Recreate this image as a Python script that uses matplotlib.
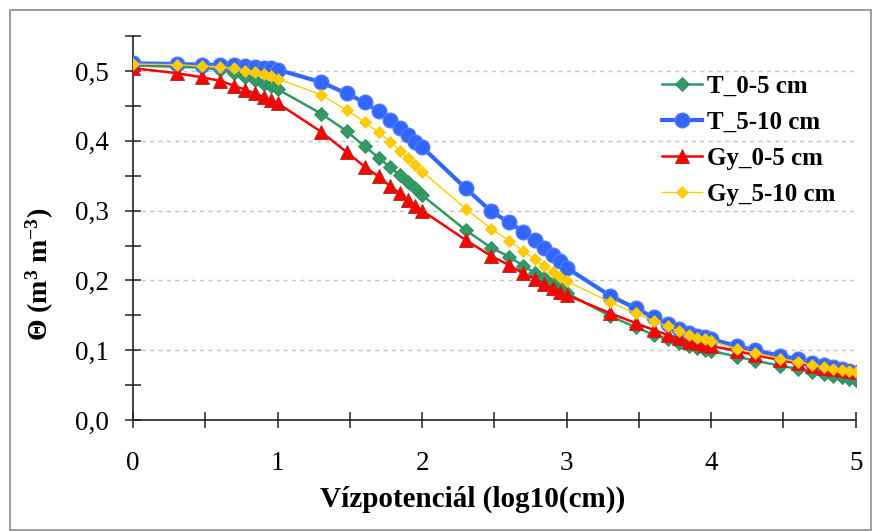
import numpy as np
import matplotlib
matplotlib.use('Agg')
import matplotlib.pyplot as plt
from matplotlib.patches import Rectangle
from matplotlib.ticker import MultipleLocator, FuncFormatter

plt.rcParams['font.family'] = ['Liberation Serif', 'DejaVu Serif']
plt.rcParams['mathtext.fontset'] = 'custom'
plt.rcParams['mathtext.rm'] = 'Liberation Serif'
plt.rcParams['mathtext.bf'] = 'Liberation Serif:bold'
plt.rcParams['mathtext.default'] = 'bf'

# log10 of the water potential (cm)
pot = [0, 0.301, 0.477, 0.602, 0.699, 0.778, 0.845, 0.903, 0.954, 1.0,
       1.301, 1.477, 1.602, 1.699, 1.778, 1.845, 1.903, 1.954, 2.0,
       2.301, 2.477, 2.602, 2.699, 2.778, 2.845, 2.903, 2.954, 3.0,
       3.301, 3.477, 3.602, 3.699, 3.778, 3.845, 3.903, 3.954, 4.0,
       4.176, 4.301, 4.477, 4.602, 4.699, 4.778, 4.845, 4.903, 4.954, 5.0]

t_0_5 = [0.508, 0.506, 0.505, 0.502, 0.497, 0.492, 0.487, 0.482, 0.478, 0.474,
         0.439, 0.414, 0.392, 0.376, 0.362, 0.351, 0.341, 0.332, 0.322,
         0.272, 0.247, 0.234, 0.221, 0.211, 0.203, 0.196, 0.189, 0.182,
         0.149, 0.133, 0.122, 0.116, 0.110, 0.106, 0.103, 0.100, 0.099,
         0.091, 0.085, 0.078, 0.073, 0.069, 0.066, 0.063, 0.061, 0.059, 0.057]

t_5_10 = [0.511, 0.510, 0.509, 0.509, 0.508, 0.507, 0.506, 0.505, 0.504, 0.502,
          0.484, 0.468, 0.455, 0.442, 0.430, 0.418, 0.408, 0.399, 0.391,
          0.332, 0.299, 0.283, 0.270, 0.258, 0.247, 0.237, 0.228, 0.218,
          0.178, 0.160, 0.147, 0.138, 0.131, 0.125, 0.121, 0.119, 0.116,
          0.106, 0.100, 0.092, 0.087, 0.082, 0.079, 0.076, 0.073, 0.070, 0.067]

gy_0_5 = [0.504, 0.497, 0.491, 0.486, 0.479, 0.473, 0.468, 0.463, 0.458, 0.454,
          0.413, 0.384, 0.363, 0.349, 0.335, 0.325, 0.315, 0.307, 0.300,
          0.258, 0.235, 0.222, 0.210, 0.202, 0.195, 0.189, 0.184, 0.179,
          0.153, 0.139, 0.129, 0.122, 0.117, 0.112, 0.110, 0.107, 0.106,
          0.099, 0.093, 0.086, 0.081, 0.078, 0.075, 0.073, 0.071, 0.070, 0.069]

gy_5_10 = [0.510, 0.509, 0.507, 0.506, 0.504, 0.500, 0.498, 0.496, 0.493, 0.489,
           0.466, 0.444, 0.427, 0.412, 0.399, 0.386, 0.375, 0.365, 0.356,
           0.303, 0.274, 0.257, 0.242, 0.230, 0.220, 0.212, 0.205, 0.199,
           0.169, 0.153, 0.142, 0.134, 0.127, 0.122, 0.118, 0.116, 0.113,
           0.102, 0.096, 0.088, 0.083, 0.079, 0.076, 0.073, 0.071, 0.070, 0.069]

fig = plt.figure(figsize=(8.75, 5.31), dpi=100)
fig.patches.append(Rectangle((0.0114, 0.002), 0.984, 0.979, transform=fig.transFigure,
                             fill=False, edgecolor='#8c8c8c', linewidth=1.2))
ax = fig.add_axes([0.152, 0.209, 0.826, 0.723])

ax.plot(pot, t_0_5, color='#339966', lw=1.8, marker='D', ms=7,
        mfc='#339966', mec='#2e8a5c', mew=0.6, label='T_0-5 cm', zorder=3)
ax.plot(pot, t_5_10, color='#3366FF', lw=3.0, marker='o', ms=10.5,
        mfc='#3366FF', mec='#4d7bff', mew=1.0, label='T_5-10 cm', zorder=4)
ax.plot(pot, gy_0_5, color='#FF0000', lw=1.8, marker='^', ms=9.5,
        mfc='#FF0000', mec='#a8322a', mew=0.7, label='Gy_0-5 cm', zorder=5)
ax.plot(pot, gy_5_10, color='#FFCC00', lw=1.0, marker='D', ms=6.5,
        mfc='#FFCC00', mec='#ffc400', mew=0.5, label='Gy_5-10 cm', zorder=6)

ax.set_xlim(0, 5)
ax.set_ylim(0, 0.55)
ax.xaxis.set_major_locator(MultipleLocator(1))
ax.xaxis.set_minor_locator(MultipleLocator(0.5))
ax.yaxis.set_major_locator(MultipleLocator(0.1))
ax.yaxis.set_minor_locator(MultipleLocator(0.05))
ax.yaxis.set_major_formatter(FuncFormatter(lambda v, p: f'{v:.1f}'.replace('.', ',')))

for s in ['top', 'right']:
    ax.spines[s].set_visible(False)
for s in ['left', 'bottom']:
    ax.spines[s].set_color('#222222')
    ax.spines[s].set_linewidth(1.2)

ax.tick_params(which='both', direction='inout', length=11, width=1.1, color='#222222')
ax.tick_params(axis='y', labelsize=19.5, pad=12)
ax.tick_params(axis='x', labelsize=19.5, pad=17)

ax.grid(axis='y', which='major', color='#c4c4c4', linestyle=(0, (3, 3)), linewidth=1.0)
ax.set_axisbelow(True)

ax.set_xlabel('Vízpotenciál (log10(cm))', fontsize=21, fontweight='bold')
ax.set_ylabel(r'$\Theta$ (m$^{3}$ m$^{-3}$)', fontsize=20, fontweight='bold')
ax.xaxis.set_label_coords(0.47, -0.17)
ax.yaxis.set_label_coords(-0.106, 0.38)

ax.legend(loc='upper left', bbox_to_anchor=(0.7325, 0.899), frameon=False,
          prop={'weight': 'bold', 'size': 18}, handlelength=1.6,
          handletextpad=0.2, labelspacing=0.52, borderpad=0, borderaxespad=0)

fig.savefig('out.png', dpi=100)
